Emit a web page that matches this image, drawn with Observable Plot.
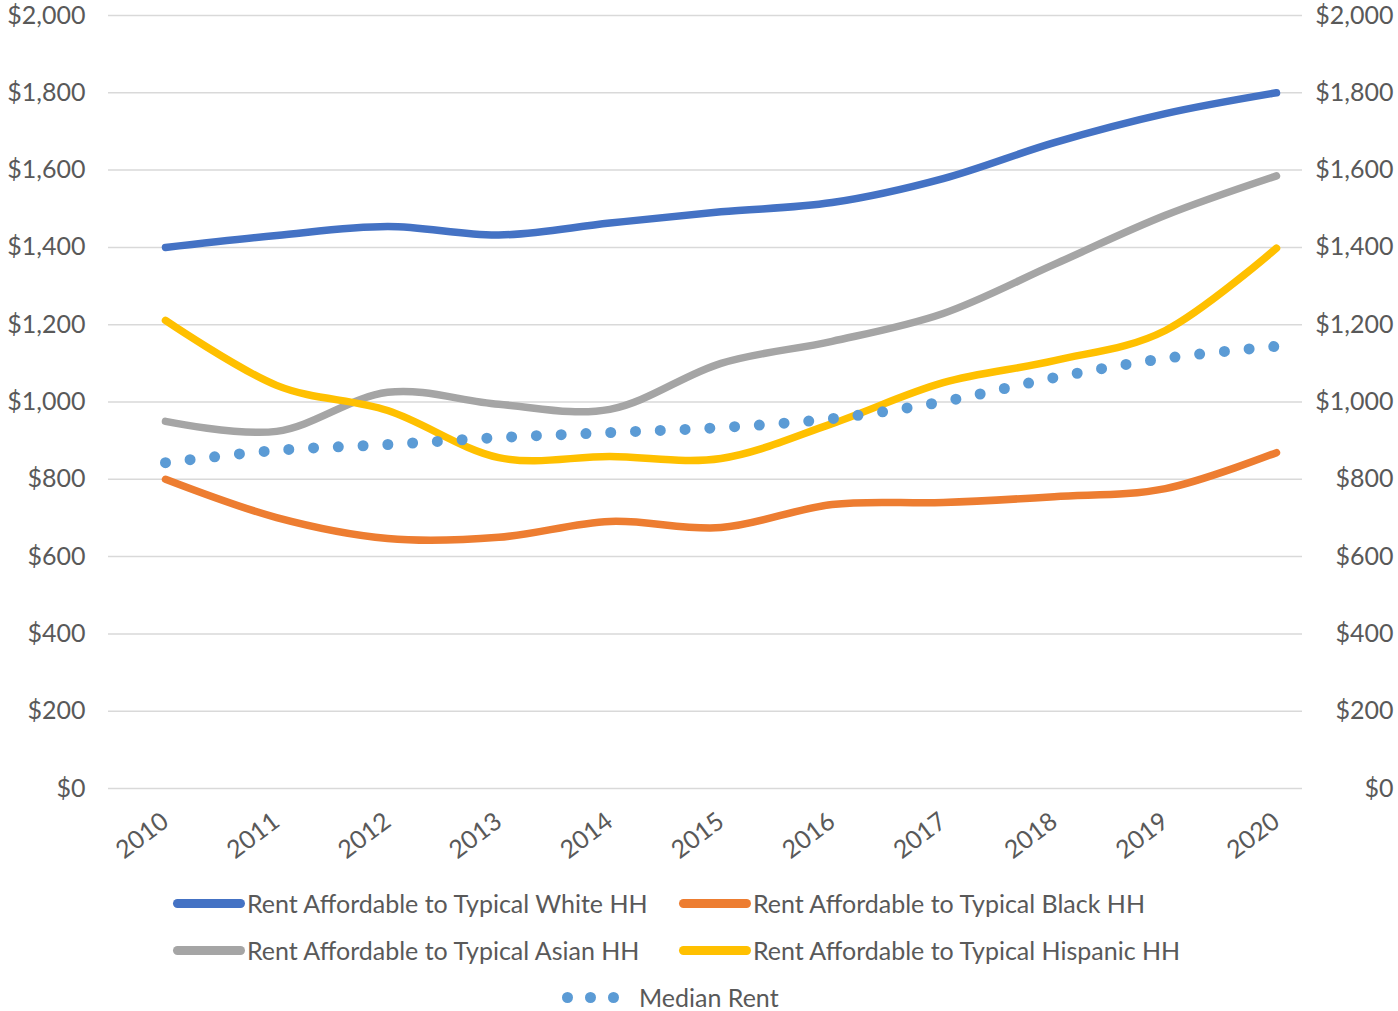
<!DOCTYPE html>
<html>
<head>
<meta charset="utf-8">
<script src="https://cdn.jsdelivr.net/npm/d3@7"></script>
<script src="https://cdn.jsdelivr.net/npm/@observablehq/plot@0.6"></script>
<style>
  body { margin: 0; background: #fff; font-family: Lato, sans-serif; }
  #wrap { position: relative; width: 1398px; height: 1011px; }
  .leg { position: absolute; display: flex; align-items: center; color: #595959; font-size: 25px; white-space: nowrap; }
  .sw { width: 72px; height: 9px; border-radius: 4.5px; margin-right: 2px; }
  .dot { width: 11px; height: 11px; border-radius: 50%; background: #5B9BD5; margin-right: 12px; }
</style>
</head>
<body>
<div id="wrap"></div>
<script>
const years = [2010, 2011, 2012, 2013, 2014, 2015, 2016, 2017, 2018, 2019, 2020];
const white = [1400, 1431, 1454, 1432, 1463, 1492, 1516, 1578, 1671, 1746, 1800];
const black = [800, 701, 647, 650, 691, 675, 735, 740, 755, 776, 869];
const asian = [950, 924, 1025, 994, 981, 1100, 1157, 1229, 1356, 1483, 1585];
const hispanic = [1211, 1043, 978, 856, 859, 854, 944, 1050, 1107, 1185, 1398];
const medianRent = [843, 875, 890, 908, 921, 934, 957, 1001, 1063, 1113, 1144];
const yTicks = [0, 200, 400, 600, 800, 1000, 1200, 1400, 1600, 1800, 2000];

const seriesNames = [
  "Rent Affordable to Typical White HH",
  "Rent Affordable to Typical Black HH",
  "Rent Affordable to Typical Asian HH",
  "Rent Affordable to Typical Hispanic HH",
  "Median Rent"
];
const seriesValues = [white, black, asian, hispanic, medianRent];
const colors = ["#4472C4", "#ED7D31", "#A5A5A5", "#FFC000", "#5B9BD5"];

const rows = (vals, name) => years.map((yr, i) => ({year: yr, value: vals[i], series: name}));
const fmt = d => "$" + d3.format(",")(d);

const solidLines = [0, 1, 2, 3].map(k =>
  Plot.line(rows(seriesValues[k], seriesNames[k]), {
    x: "year", y: "value", stroke: colors[k], strokeWidth: 7.5,
    curve: "cardinal", strokeLinecap: "round", strokeLinejoin: "round"
  })
);

const chart = Plot.plot({
  width: 1398,
  height: 870,
  marginLeft: 108,
  marginRight: 96,
  marginTop: 15,
  marginBottom: 82,
  style: {fontFamily: "Lato, sans-serif", fontSize: "25px", color: "#595959", background: "#fff"},
  x: {type: "linear", domain: [2010, 2020], range: [165, 1276]},
  y: {domain: [0, 2000]},
  marks: [
    Plot.ruleY(yTicks, {stroke: "#d9d9d9", strokeWidth: 1.5}),
    Plot.axisY({anchor: "left", ticks: yTicks, tickFormat: fmt, tickSize: 0, tickPadding: 23, fontSize: 25, fill: "#595959", label: null}),
    Plot.axisY({anchor: "right", ticks: yTicks, tickFormat: fmt, tickSize: 0, tickPadding: 91, textAnchor: "end", fontSize: 25, fill: "#595959", label: null}),
    Plot.axisX({ticks: years, tickFormat: d => String(d), tickRotate: -37, tickSize: 0, tickPadding: 30, fontSize: 25, fill: "#595959", label: null}),
    ...solidLines,
    Plot.line(rows(medianRent, seriesNames[4]), {
      x: "year", y: "value", stroke: colors[4], strokeWidth: 11,
      curve: "cardinal", strokeLinecap: "round", strokeDasharray: "0 24.8"
    })
  ]
});

const wrap = document.getElementById("wrap");
wrap.appendChild(chart);

const legendItems = [
  {k: 0, left: 173, top: 903},
  {k: 1, left: 679, top: 903},
  {k: 2, left: 173, top: 950},
  {k: 3, left: 679, top: 950},
  {k: 4, left: 562, top: 997}
];
for (const it of legendItems) {
  const el = document.createElement("div");
  el.className = "leg";
  el.style.left = it.left + "px";
  el.style.top = (it.top - 16) + "px";
  el.style.height = "32px";
  if (it.k === 4) {
    for (let j = 0; j < 3; j++) {
      const d = document.createElement("div");
      d.className = "dot";
      el.appendChild(d);
    }
    el.lastChild.style.marginRight = "20px";
  } else {
    const s = document.createElement("div");
    s.className = "sw";
    s.style.background = colors[it.k];
    el.appendChild(s);
  }
  const t = document.createElement("span");
  t.textContent = seriesNames[it.k];
  el.appendChild(t);
  wrap.appendChild(el);
}
</script>
</body>
</html>
